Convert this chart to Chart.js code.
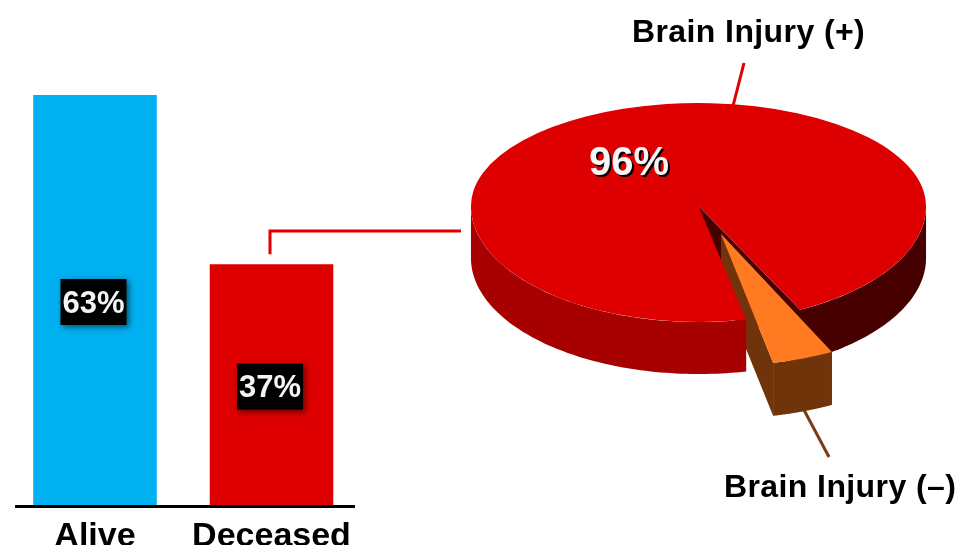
<!DOCTYPE html>
<html>
<head>
<meta charset="utf-8">
<style>
html,body{margin:0;padding:0;background:#fff;width:965px;height:545px;overflow:hidden}
canvas{position:absolute;left:0;top:0}
</style>
<script src="https://cdn.jsdelivr.net/npm/chart.js@4"></script>
</head>
<body>
<canvas id="bars" width="965" height="545"></canvas>
<canvas id="pie" width="965" height="545"></canvas>
<script>
const outcomeLabels = ['Alive', 'Deceased'];
const outcomeValues = [63, 37];
const outcomeColors = ['#00b0f0', '#de0000'];
const injuryLabels = ['Brain Injury (+)', 'Brain Injury (\u2013)'];
const injuryValues = [96, 4];
const injuryColors = ['#de0000', '#ff7a20'];

const FONT = '"Liberation Sans", Arial, sans-serif';

const barAnnotations = {
  id: 'barAnnotations',
  afterDatasetsDraw(chart) {
    const ctx = chart.ctx;
    const meta = chart.getDatasetMeta(0);
    const y0 = chart.scales.y.getPixelForValue(0);
    ctx.save();
    ctx.strokeStyle = '#000';
    ctx.lineWidth = 3;
    ctx.beginPath();
    ctx.moveTo(15, y0 + 1.5);
    ctx.lineTo(355, y0 + 1.5);
    ctx.stroke();
    const dead = meta.data[1];
    ctx.strokeStyle = '#e00000';
    ctx.beginPath();
    ctx.moveTo(dead.x - 1.5, dead.y - 10);
    ctx.lineTo(dead.x - 1.5, 231);
    ctx.lineTo(461, 231);
    ctx.stroke();
    meta.data.forEach((bar, i) => {
      const cx = bar.x - 1.5, cy = (bar.y + y0) / 2 + 2;
      ctx.save();
      ctx.shadowColor = 'rgba(0,0,0,0.55)';
      ctx.shadowBlur = 6;
      ctx.shadowOffsetX = 2;
      ctx.shadowOffsetY = 2;
      ctx.fillStyle = '#000';
      ctx.fillRect(cx - 33, cy - 23, 66, 46);
      ctx.restore();
      ctx.fillStyle = '#f4f4f4';
      ctx.font = 'bold 31px ' + FONT;
      ctx.textAlign = 'center';
      ctx.textBaseline = 'middle';
      ctx.fillText(outcomeValues[i] + '%', cx, cy + 2);
    });
    ctx.restore();
  }
};

new Chart(document.getElementById('bars'), {
  type: 'bar',
  data: {
    labels: outcomeLabels,
    datasets: [{ data: outcomeValues, backgroundColor: outcomeColors, borderWidth: 0,
      barPercentage: 0.7, categoryPercentage: 1 }]
  },
  options: {
    responsive: false, animation: false,
    layout: { padding: { left: 6.75, right: 605.25, top: 95, bottom: 0 } },
    plugins: { legend: { display: false }, tooltip: { enabled: false } },
    scales: {
      x: {
        grid: { display: false }, border: { display: false },
        afterFit(s) { s.height = 40; },
        ticks: { color: '#000', padding: 3, maxRotation: 0, font: { family: FONT, size: 34, weight: 'bold' } }
      },
      y: { display: false, min: 0, max: 63 }
    }
  },
  plugins: [barAnnotations]
});

const pie3d = {
  id: 'pie3d',
  beforeDatasetDraw(chart) {
    const ctx = chart.ctx;
    const [red, orange] = chart.getDatasetMeta(0).data;
    const R = { x: 698.5, y: 206, sx: 0.998, top: 103 / 228, bottom: 116 / 228, depth: 52 };
    const O = { x: 721, y: 234, sx: 1.09, top: 0.578, bottom: 0.578, depth: 53 };
    const rim = (arc, m, a) => {
      const s = Math.sin(a);
      return [m.x + arc.outerRadius * Math.cos(a) * m.sx,
              m.y + arc.outerRadius * s * (s < 0 ? m.top : m.bottom)];
    };
    const side = (arc, m, a0, a1, color) => {
      const pts = [];
      const n = 80;
      for (let i = 0; i <= n; i++) pts.push(rim(arc, m, a0 + (a1 - a0) * i / n));
      ctx.beginPath();
      pts.forEach((p, i) => i ? ctx.lineTo(p[0], p[1]) : ctx.moveTo(p[0], p[1]));
      for (let i = n; i >= 0; i--) ctx.lineTo(pts[i][0], pts[i][1] + m.depth);
      ctx.closePath();
      ctx.fillStyle = color;
      ctx.fill();
    };
    const wall = (arc, m, a, color) => {
      const p = rim(arc, m, a);
      ctx.beginPath();
      ctx.moveTo(m.x, m.y);
      ctx.lineTo(p[0], p[1]);
      ctx.lineTo(p[0], p[1] + m.depth);
      ctx.lineTo(m.x, m.y + m.depth);
      ctx.closePath();
      ctx.fillStyle = color;
      ctx.fill();
    };
    const face = (arc, m) => {
      ctx.save();
      ctx.beginPath();
      ctx.rect(0, 0, chart.width, m.y);
      ctx.clip();
      ctx.translate(m.x, m.y);
      ctx.scale(m.sx, m.top);
      ctx.translate(-arc.x, -arc.y);
      arc.draw(ctx);
      ctx.restore();
      ctx.save();
      ctx.beginPath();
      ctx.rect(0, m.y, chart.width, chart.height - m.y);
      ctx.clip();
      ctx.translate(m.x, m.y);
      ctx.scale(m.sx, m.bottom);
      ctx.translate(-arc.x, -arc.y);
      arc.draw(ctx);
      ctx.restore();
    };
    const brown = '#70340a';
    ctx.save();
    // leader lines
    ctx.lineWidth = 3;
    ctx.strokeStyle = '#e00000';
    ctx.beginPath(); ctx.moveTo(744, 63); ctx.lineTo(733, 106); ctx.stroke();
    ctx.strokeStyle = '#7a3c10';
    ctx.beginPath(); ctx.moveTo(804, 410); ctx.lineTo(829, 457); ctx.stroke();
    // far walls of the main slice
    wall(red, R, red.endAngle, '#470000');
    side(red, R, 2 * Math.PI, red.endAngle, '#470000');
    // detached slice extrusion
    wall(orange, O, orange.endAngle, brown);
    wall(orange, O, orange.startAngle, brown);
    side(orange, O, orange.startAngle, orange.endAngle, brown);
    // near wall of the main slice sits over the detached slice's hidden edge
    side(red, R, red.startAngle, Math.PI, '#a60000');
    // top faces
    face(red, R);
    face(orange, O);
    // labels
    ctx.fillStyle = '#000';
    ctx.font = 'bold 32px ' + FONT;
    ctx.textAlign = 'left';
    ctx.textBaseline = 'alphabetic';
    ctx.letterSpacing = '0.4px';
    ctx.fillText(injuryLabels[0], 632, 42);
    ctx.fillText(injuryLabels[1], 724, 497);
    ctx.letterSpacing = '0px';
    ctx.font = 'bold 40px ' + FONT;
    ctx.fillStyle = '#000';
    ctx.fillText(injuryValues[0] + '%', 591, 177);
    ctx.fillStyle = '#f6f6f6';
    ctx.fillText(injuryValues[0] + '%', 589, 175);
    ctx.restore();
    return false;
  }
};

new Chart(document.getElementById('pie'), {
  type: 'pie',
  data: {
    labels: injuryLabels,
    datasets: [{ data: injuryValues, backgroundColor: injuryColors, borderWidth: 0, hoverOffset: 0 }]
  },
  options: {
    responsive: false, animation: false,
    rotation: 167.9,
    layout: { padding: { top: 44.5, bottom: 44.5 } },
    plugins: { legend: { display: false }, tooltip: { enabled: false } }
  },
  plugins: [pie3d]
});
</script>
</body>
</html>
